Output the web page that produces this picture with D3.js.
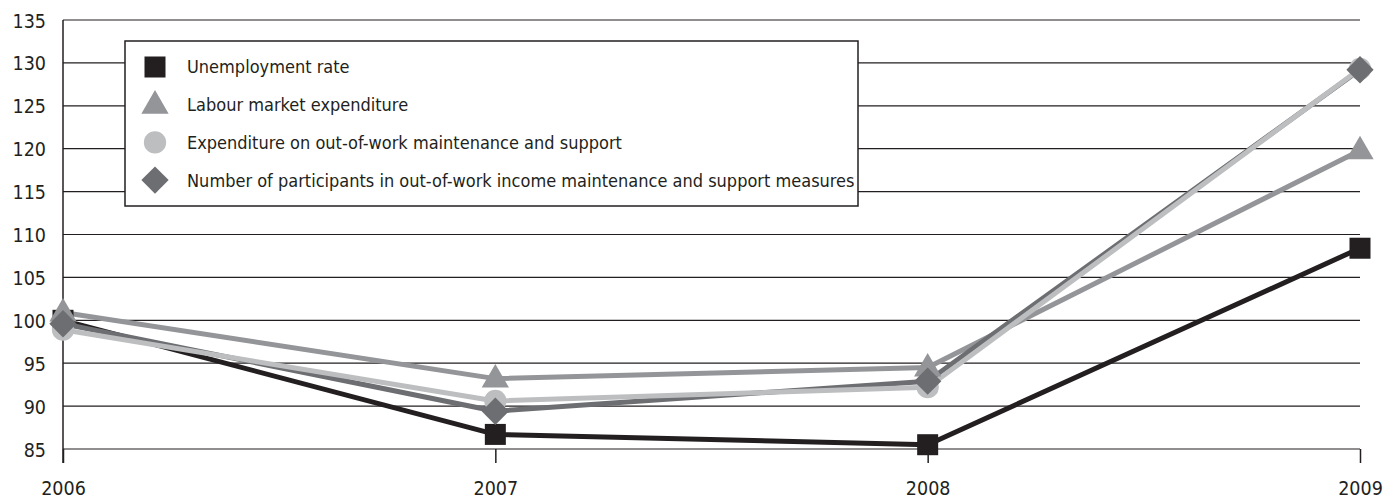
<!DOCTYPE html>
<html>
<head>
<meta charset="utf-8">
<script src="https://cdn.jsdelivr.net/npm/d3@7"></script>
<style>
  body { margin: 0; background: #fff; }
  svg text { font-family: "Liberation Sans Narrow", "DejaVu Sans Condensed", sans-serif; fill: #231f20; }
</style>
</head>
<body>
<svg id="chart" width="1394" height="502"></svg>
<script>
const years = ['2006', '2007', '2008', '2009'];
const yTicks = [85, 90, 95, 100, 105, 110, 115, 120, 125, 130, 135];

const unemployment = [100, 86.7, 85.5, 108.4];
const labourExpenditure = [100.9, 93.2, 94.5, 119.8];
const outOfWorkExpenditure = [98.9, 90.6, 92.2, 129.3];
const participants = [99.6, 89.4, 92.9, 129.2];

const series = [
  { name: 'Unemployment rate', values: unemployment, color: '#231f20', shape: 'square' },
  { name: 'Labour market expenditure', values: labourExpenditure, color: '#939598', shape: 'triangle' },
  { name: 'Expenditure on out-of-work maintenance and support', values: outOfWorkExpenditure, color: '#bcbec0', shape: 'circle' },
  { name: 'Number of participants in out-of-work income maintenance and support measures', values: participants, color: '#6d6e71', shape: 'diamond' }
];

const margin = { left: 63, right: 34, top: 20, bottom: 53 };
const width = 1394, height = 502;

const svg = d3.select('#chart');

const x = d3.scalePoint().domain(years).range([margin.left, width - margin.right]);
const y = d3.scaleLinear().domain([85, 135]).range([height - margin.bottom, margin.top]);

// gridlines
svg.append('g')
  .selectAll('line')
  .data(yTicks)
  .join('line')
  .attr('x1', margin.left)
  .attr('x2', width - margin.right)
  .attr('y1', d => y(d))
  .attr('y2', d => y(d))
  .attr('stroke', '#231f20')
  .attr('stroke-width', 1.2);

// y axis
const yAxis = svg.append('g')
  .attr('transform', `translate(${margin.left},0)`)
  .call(d3.axisLeft(y).tickValues(yTicks).tickSize(0).tickPadding(17));
yAxis.select('.domain').remove();
yAxis.selectAll('text').attr('font-size', 19.5).attr('dy', '0.36em');
svg.append('line')
  .attr('x1', margin.left).attr('x2', margin.left)
  .attr('y1', y(135)).attr('y2', y(85) + 14)
  .attr('stroke', '#231f20').attr('stroke-width', 1.5);

// x axis
const xAxis = svg.append('g')
  .attr('transform', `translate(0,${y(85)})`)
  .call(d3.axisBottom(x).tickSize(14).tickPadding(18));
xAxis.select('.domain').remove();
xAxis.selectAll('line').attr('stroke', '#231f20').attr('stroke-width', 1.5);
xAxis.selectAll('text').attr('font-size', 19.5);

const line = d3.line()
  .x((d, i) => x(years[i]))
  .y(d => y(d));

function drawShape(g, shape, color, s) {
  if (shape === 'square') {
    g.append('rect').attr('x', -s / 2).attr('y', -s / 2).attr('width', s).attr('height', s).attr('fill', color);
  } else if (shape === 'triangle') {
    const w = s * 1.3, h = s * 1.12;
    g.append('path')
      .attr('d', `M0,${-h * 0.62}L${w / 2},${h * 0.38}L${-w / 2},${h * 0.38}Z`)
      .attr('fill', color);
  } else if (shape === 'circle') {
    g.append('circle').attr('r', s * 0.53).attr('fill', color);
  } else {
    const r = s * 0.65;
    g.append('path').attr('d', `M0,${-r}L${r},0L0,${r}L${-r},0Z`).attr('fill', color);
  }
}

// lines first (diamond line under the light circle line), then markers
const lineOrder = [0, 1, 3, 2];
const linesG = svg.append('g');
lineOrder.forEach(k => {
  linesG.append('path')
    .datum(series[k].values)
    .attr('d', line)
    .attr('fill', 'none')
    .attr('stroke', series[k].color)
    .attr('stroke-width', 5)
    .attr('stroke-linejoin', 'round');
});

const markersG = svg.append('g');
series.forEach(sr => {
  sr.values.forEach((v, i) => {
    const g = markersG.append('g').attr('transform', `translate(${x(years[i])},${y(v)})`);
    drawShape(g, sr.shape, sr.color, 21);
  });
});

// legend
const legend = svg.append('g');
legend.append('rect')
  .attr('x', 125).attr('y', 41).attr('width', 733).attr('height', 165)
  .attr('fill', '#fff').attr('stroke', '#231f20').attr('stroke-width', 1.5);
series.forEach((sr, i) => {
  const cy = 67 + i * 37.7;
  const g = legend.append('g').attr('transform', `translate(155,${cy})`);
  drawShape(g, sr.shape, sr.color, 21);
  legend.append('text')
    .attr('x', 187).attr('y', cy).attr('dy', '0.36em')
    .attr('font-size', 18)
    .text(sr.name);
});
</script>
</body>
</html>
